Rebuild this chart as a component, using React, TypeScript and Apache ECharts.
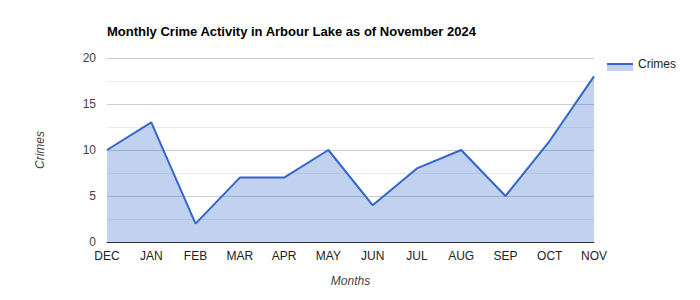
import React, { useEffect, useRef } from "react";
import * as echarts from "echarts";

const categories = ["DEC", "JAN", "FEB", "MAR", "APR", "MAY", "JUN", "JUL", "AUG", "SEP", "OCT", "NOV"];
const crimes = [10, 13, 2, 7, 7, 10, 4, 8, 10, 5, 11, 18];
const seriesName = "Crimes";
const titleText = "Monthly Crime Activity in Arbour Lake as of November 2024";

export default function App() {
  const ref = useRef<HTMLDivElement>(null);
  useEffect(() => {
    if (!ref.current) return;
    const chart = echarts.init(ref.current, null, { renderer: "svg" });
    const font = "Arial, 'Liberation Sans', sans-serif";
    chart.setOption({
      animation: false,
      textStyle: { fontFamily: font },
      title: {
        text: titleText,
        left: 102,
        top: 20,
        textStyle: { fontFamily: font, fontSize: 13, fontWeight: "bold", color: "#000" },
      },
      grid: { left: 107, right: 106, top: 58, bottom: 58 },
      xAxis: {
        type: "category",
        data: categories,
        boundaryGap: false,
        name: "Months",
        nameLocation: "middle",
        nameGap: 33,
        nameTextStyle: { fontStyle: "italic", fontSize: 12, color: "#444", fontFamily: font },
        axisLine: { lineStyle: { color: "#333", width: 1 } },
        axisTick: { show: false },
        axisLabel: { color: "#222", fontSize: 12, margin: 8, fontFamily: font },
        splitLine: { show: false },
      },
      yAxis: {
        type: "value",
        min: 0,
        max: 20,
        interval: 5,
        name: "Crimes",
        nameLocation: "middle",
        nameGap: 61,
        nameTextStyle: { fontStyle: "italic", fontSize: 12, color: "#444", fontFamily: font },
        axisLine: { show: false },
        axisTick: { show: false },
        axisLabel: { color: "#444", fontSize: 12, margin: 11, fontFamily: font },
        splitLine: { lineStyle: { color: "#cccccc", width: 1 } },
        minorTick: { show: false, splitNumber: 2 },
        minorSplitLine: { show: true, lineStyle: { color: "#ebebeb", width: 1 } },
      },
      series: [
        {
          name: seriesName,
          type: "line",
          data: crimes,
          showSymbol: false,
          symbol: "none",
          lineStyle: { color: "#3366cc", width: 2 },
          itemStyle: { color: "#3366cc" },
          areaStyle: { color: "#3366cc", opacity: 0.3 },
          z: 3,
        },
      ],
      graphic: [
        { type: "rect", shape: { x: 607, y: 64, width: 26, height: 7 }, style: { fill: "#c2d1f0" } },
        { type: "line", shape: { x1: 607, y1: 64, x2: 633, y2: 64 }, style: { stroke: "#3366cc", lineWidth: 2 } },
        {
          type: "text",
          x: 638,
          y: 64,
          style: { text: seriesName, fontSize: 12, fill: "#222", fontFamily: font, verticalAlign: "middle" },
        },
      ],
    });
    return () => chart.dispose();
  }, []);
  return <div ref={ref} style={{ width: 700, height: 300, marginLeft: -8, marginTop: -8 }} />;
}
